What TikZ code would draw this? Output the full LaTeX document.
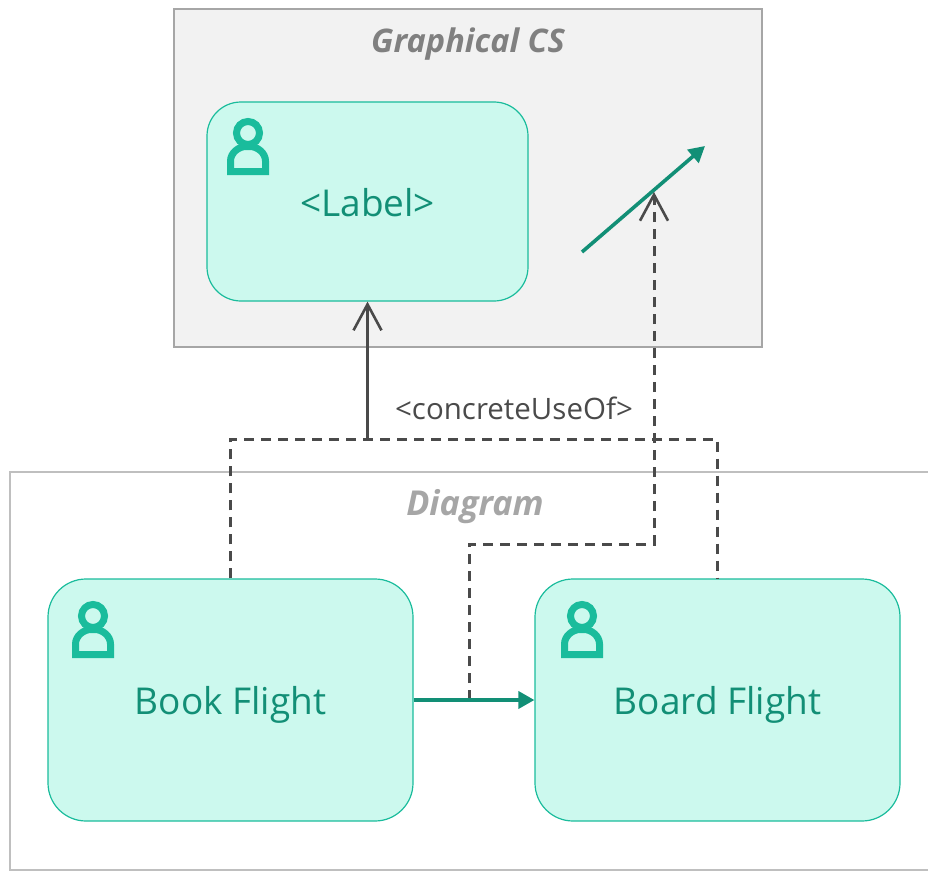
\documentclass[tikz,border=0pt]{standalone}
\usepackage{fontspec}
\setmainfont{Open Sans}
\usetikzlibrary{arrows.meta}
\definecolor{tealdark}{HTML}{128F76}
\definecolor{tealmid}{HTML}{1ABC9C}
\definecolor{tealpale}{HTML}{CCF9EE}
\definecolor{greytext}{HTML}{4A4A4A}
\tikzset{
	usecase/.style={draw=tealmid, fill=tealpale, line width=1.2pt, text=tealdark, rounded corners=38pt, inner sep=0pt, font=\fontsize{37}{42}\selectfont},
	panel/.style={rectangle, inner sep=0pt},
	dep/.style={draw=greytext, line width=3pt, dash pattern=on 10pt off 7pt},
	usearrow/.style={draw=greytext, line width=2.6pt, -{Straight Barb[length=26pt,width=28pt,line width=2.6pt]}},
	flow/.style={draw=tealdark, line width=3.6pt, -{Triangle[length=16pt,width=17pt]}},
	person/.pic={
		\draw[tealmid, line width=7pt] (0,0) circle (11.5);
		\draw[tealmid, line width=7pt, line join=miter] (-17.5,38.5) -- (-17.5,28) .. controls (-17.5,20) and (-9.5,13.5) .. (-2,13.5) -- (2,13.5) .. controls (9.5,13.5) and (17.5,20) .. (17.5,28) -- (17.5,38.5) -- cycle;
	}
}
\begin{document}
\begin{tikzpicture}[x=1pt, y=-1pt]
	\useasboundingbox (0,0) rectangle (928,872);
	\node[panel, draw=black!35, fill=black!5, line width=2.4pt, minimum width=588pt, minimum height=338pt] (cs) at (468,178) {};
	\node[panel, draw=black!25, line width=2.4pt, minimum width=950pt, minimum height=398pt] (diagram) at (485,671) {};
	\node[text=black!50, font=\fontsize{32.5}{38}\selectfont\bfseries\itshape] (cstitle) at (468,44) {Graphical CS};
	\node[text=black!35, font=\fontsize{34.3}{38}\selectfont\bfseries\itshape] (diagramtitle) at (475,507) {Diagram};
	\node[usecase, rounded corners=34pt, minimum width=321pt, minimum height=199pt] (label) at (367.5,201.5) {};
	\node[text=tealdark, font=\fontsize{37}{42}\selectfont] (labeltext) at (367.5,203) {<Label>};
	\node[usecase, minimum width=365pt, minimum height=242pt, text height=28pt, text depth=0pt] (book) at (230.5,700) {Book Flight};
	\node[usecase, minimum width=365pt, minimum height=242pt, text height=28pt, text depth=0pt] (board) at (717.5,700) {Board Flight};
	\pic at (248,133) {person};
	\pic at (93,616) {person};
	\pic at (582,616) {person};
	\coordinate (bus) at (367.5,439);
	\coordinate (flowmid) at (469,700);
	\coordinate (bend) at (654,544);
	\coordinate (linestart) at (582,252);
	\coordinate (lineend) at (705,146);
	\coordinate (linemid) at (654,192);
	\draw[flow] (linestart) -- (lineend);
	\draw[dep] (book.north) |- (bus) -| (board.north);
	\draw[usearrow] (bus) -- (label.south);
	\draw[usearrow, line width=3pt, dash pattern=on 10pt off 7pt] (flowmid) |- (bend) -- (linemid);
	\draw[flow] (book.east |- flowmid) -- (board.west |- flowmid);
	\node[text=greytext, font=\fontsize{29.5}{34}\selectfont] (stereo) at (514,408) {<concreteUseOf>};
\end{tikzpicture}
\end{document}
